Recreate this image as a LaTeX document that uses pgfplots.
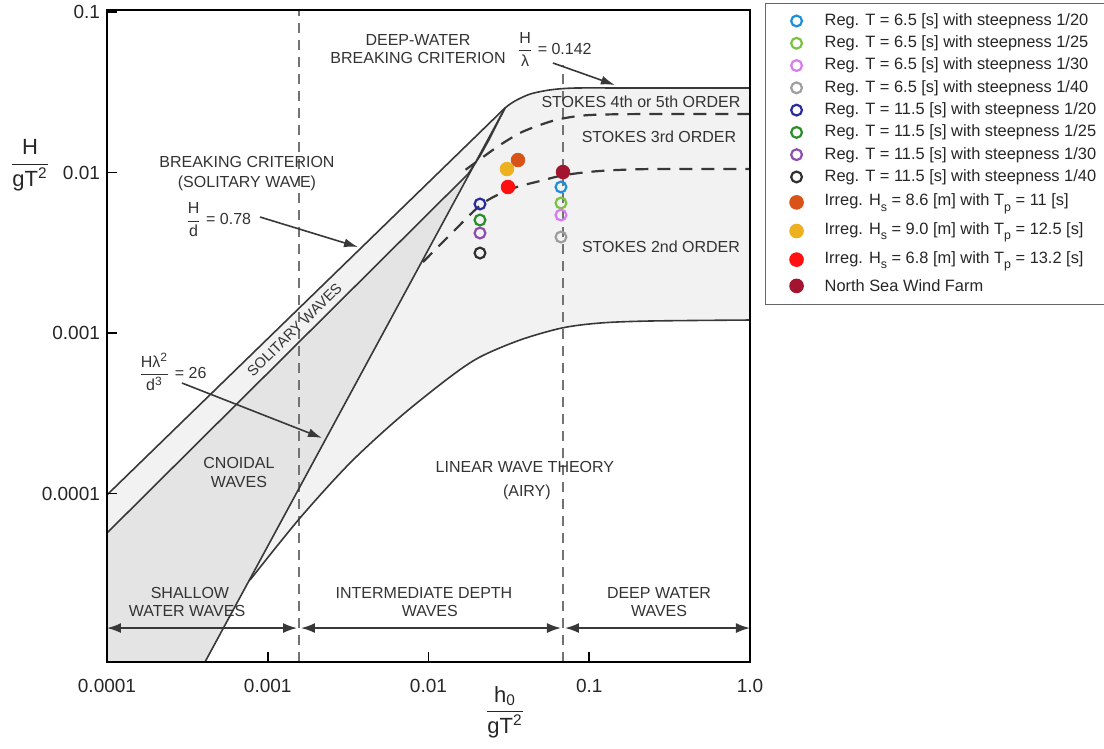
\documentclass[border=0pt]{standalone}
\usepackage{pgfplots}
\pgfplotsset{compat=1.18}
\usepackage{fontspec}
\setmainfont{Liberation Sans}
\usepackage{amsmath}
\usetikzlibrary{arrows.meta}

\definecolor{cA}{HTML}{1E8FD8}
\definecolor{cB}{HTML}{7CC242}
\definecolor{cC}{HTML}{D77BF0}
\definecolor{cD}{HTML}{9E9E9E}
\definecolor{cE}{HTML}{2B2BA0}
\definecolor{cF}{HTML}{2A8C2A}
\definecolor{cG}{HTML}{8E4DB0}
\definecolor{cH}{HTML}{303030}
\definecolor{cI}{HTML}{D95319}
\definecolor{cJ}{HTML}{EDB120}
\definecolor{cK}{HTML}{FF1010}
\definecolor{cL}{HTML}{A2142F}
\definecolor{lightfill}{HTML}{F2F2F2}
\definecolor{cnoidfill}{HTML}{E4E4E4}
\definecolor{curve}{HTML}{383838}
\definecolor{txt}{HTML}{333333}

\newcommand{\lsub}[1]{\raisebox{-2.6pt}{\fontsize{6.2}{7}\selectfont #1}}

\pgfplotsset{
  lgmark/.style={only marks,
    legend image code/.code={\path (0pt,0pt) (22.5pt,0pt);\draw[##1] plot coordinates {(11pt,0pt)};}},
  omark/.style={lgmark, mark=o, mark size=2.7pt, line width=1.1pt, color=#1},
  fmark/.style={lgmark, mark=*, mark size=3.4pt, color=#1, mark options={draw=#1, fill=#1}},
}

\begin{document}
\begin{tikzpicture}
\begin{axis}[
  at={(0,0)}, anchor=south west,
  scale only axis, width=321.5pt, height=326pt,
  xmode=log, ymode=log,
  xmin=1e-4, xmax=1, ymin=8.92e-6, ymax=0.1029,
  xtick={1e-4,1e-3,1e-2,1e-1,1}, xticklabels={0.0001,0.001,0.01,0.1,1.0},
  ytick={1e-4,1e-3,1e-2,1e-1}, yticklabels={0.0001,0.001,0.01,0.1},
  xminorticks=false, yminorticks=false,
  tick align=inside, xtick pos=left, ytick pos=left,
  major tick length=5pt,
  axis line style={line width=1.3pt},
  tick style={line width=0.8pt, black},
  ticklabel style={font=\fontsize{9.5}{11}\selectfont, text=black!85},
  xticklabel style={yshift=-5pt},
  /pgf/number format/assume math mode=true,
  axis on top,
  clip=false,
  legend style={at={(1.0233,1.0107)}, anchor=north west, draw=black!60, line width=0.5pt,
    font=\fontsize{8.2}{9.8}\selectfont, text=black!85, row sep=-0.3pt, inner xsep=4pt, inner ysep=3pt},
  legend cell align=left,
]
% light grey region between the breaking limit and the Stokes 2nd / linear limit
\addplot[fill=lightfill, draw=none, forget plot] coordinates {
  (1e-4,9.8e-5) (0.01,8.68e-3) (0.025,0.02119) (0.02992,0.02523) (0.0345,0.0279) (0.0428,0.0308) (0.0570,0.0327) (0.0815,0.0336) (1,0.0336)
  (1,1.205e-3) (0.2387,1.188e-3) (0.1166,1.154e-3) (0.06769,1.075e-3) (0.03709,9.045e-4) (0.02091,7.089e-4)
  (0.01360,5.319e-4) (6.647e-3,2.996e-4) (3.249e-3,1.549e-4) (1.587e-3,7.039e-5) (7.757e-4,2.892e-5)
  (4.071e-4,8.92e-6) (1e-4,8.92e-6)} -- cycle;
% cnoidal region
\addplot[fill=cnoidfill, draw=none, forget plot] coordinates {
  (1e-4,8.92e-6) (1e-4,5.675e-5) (0.01761,9.787e-3) (4.071e-4,8.92e-6)} -- cycle;

% vertical dashed boundaries
\addplot[black!55, line width=0.6pt, dash pattern=on 5pt off 3.5pt, forget plot] coordinates {(1.565e-3,8.92e-6) (1.565e-3,0.1029)};
\addplot[black!55, line width=0.6pt, dash pattern=on 5pt off 3.5pt, forget plot] coordinates {(0.06865,8.92e-6) (0.06865,0.0468)};

% breaking limit (upper curve)
\addplot[curve, line width=0.8pt, smooth, tension=0.45, forget plot] coordinates {
  (1e-4,9.8e-5) (0.01,8.68e-3) (0.025,0.02119) (0.02992,0.02523) (0.0345,0.0279) (0.0428,0.0308) (0.0570,0.0327) (0.0815,0.0336) (0.2,0.0336) (1,0.0336)};
% lower boundary of solitary band
\addplot[curve, line width=0.8pt, forget plot] coordinates {
  (1e-4,5.675e-5) (0.01761,9.787e-3) (0.02091,0.01267) (0.02413,0.01641) (0.02705,0.02063) (0.02992,0.02523)};
% Ursell line H lambda^2/d^3 = 26
\addplot[curve, line width=0.8pt, forget plot] coordinates {(4.071e-4,8.92e-6) (0.02992,0.02523)};
% Stokes 2nd / linear boundary
\addplot[curve, line width=0.8pt, smooth, tension=0.5, forget plot] coordinates {
  (7.757e-4,2.892e-5) (1.587e-3,7.039e-5) (3.249e-3,1.549e-4) (6.647e-3,2.996e-4) (0.01360,5.319e-4)
  (0.02091,7.089e-4) (0.03709,9.045e-4) (0.06769,1.075e-3) (0.1166,1.154e-3) (0.2387,1.188e-3) (1,1.205e-3)};
% Stokes 2nd / 3rd boundary
\addplot[curve, line width=1.1pt, smooth, tension=0.5, dash pattern=on 6.5pt off 4.5pt, forget plot] coordinates {
  (9.243e-3,2.770e-3) (0.01360,4.080e-3) (0.02152,6.365e-3) (0.03261,7.893e-3) (0.04939,8.851e-3)
  (0.07067,9.647e-3) (0.1166,0.01022) (0.2387,0.01051) (1,0.01051)};
% Stokes 3rd / 4th-5th boundary
\addplot[curve, line width=1.1pt, smooth, tension=0.5, dash pattern=on 6.5pt off 4.5pt, forget plot] coordinates {
  (0.01700,0.01040) (0.02413,0.01342) (0.02785,0.01484) (0.03709,0.01763) (0.04939,0.01977)
  (0.06577,0.02154) (0.1011,0.02282) (0.2387,0.02315) (1,0.02315)};

% depth-class arrows
\draw[curve, line width=0.8pt, {Latex[length=7pt,width=5pt]}-{Latex[length=7pt,width=5pt]}] (axis cs:1e-4,1.452e-5) -- (axis cs:1.521e-3,1.452e-5);
\draw[curve, line width=0.8pt, {Latex[length=7pt,width=5pt]}-{Latex[length=7pt,width=5pt]}] (axis cs:1.610e-3,1.452e-5) -- (axis cs:0.06671,1.452e-5);
\draw[curve, line width=0.8pt, {Latex[length=7pt,width=5pt]}-{Latex[length=7pt,width=5pt]}] (axis cs:0.07067,1.452e-5) -- (axis cs:1,1.452e-5);

% annotation arrows
\draw[curve, line width=0.8pt, -{Latex[length=7pt,width=4.5pt]}] (axis description cs:0.6936,0.9187) -- (axis description cs:0.790,0.885);
\draw[curve, line width=0.8pt, -{Latex[length=7pt,width=4.5pt]}] (axis description cs:0.238,0.6825) -- (axis description cs:0.3904,0.6365);
\draw[curve, line width=0.8pt, -{Latex[length=7pt,width=4.5pt]}] (axis description cs:0.1166,0.4279) -- (axis description cs:0.3344,0.3436);

% text labels
\begin{scope}[every node/.style={font=\fontsize{8}{9.6}\selectfont, text=txt, inner sep=0pt}]
\node at (axis description cs:0.4837,0.954) {DEEP-WATER};
\node at (axis description cs:0.4837,0.9264) {BREAKING CRITERION};
\node[anchor=west] at (axis description cs:0.637,0.940) {$\dfrac{\text{H}}{\text{λ}}$ = 0.142};
\node at (axis description cs:0.8305,0.859) {STOKES 4th or 5th ORDER};
\node at (axis description cs:0.8585,0.805) {STOKES 3rd ORDER};
\node at (axis description cs:0.8616,0.6365) {STOKES 2nd ORDER};
\node at (axis description cs:0.2177,0.7669) {BREAKING CRITERION};
\node at (axis description cs:0.2177,0.7347) {(SOLITARY WAVE)};
\node[anchor=west] at (axis description cs:0.1213,0.678) {$\dfrac{\text{H}}{\text{d}}$ = 0.78};
\node[anchor=west] at (axis description cs:0.0482,0.4448) {$\dfrac{\text{Hλ\textsuperscript{2}}}{\text{d\textsuperscript{3}}}$ = 26};
\node[rotate=44.5, font=\fontsize{7.3}{9}\selectfont] at (axis description cs:0.2915,0.5095) {SOLITARY WAVES};
\node at (axis description cs:0.2053,0.3052) {CNOIDAL};
\node at (axis description cs:0.2053,0.276) {WAVES};
\node at (axis description cs:0.650,0.299) {LINEAR WAVE THEORY};
\node at (axis description cs:0.653,0.2607) {(AIRY)};
\node at (axis description cs:0.129,0.1058) {SHALLOW};
\node at (axis description cs:0.1244,0.0782) {WATER WAVES};
\node at (axis description cs:0.493,0.1058) {INTERMEDIATE DEPTH};
\node at (axis description cs:0.502,0.0782) {WAVES};
\node at (axis description cs:0.8585,0.1058) {DEEP WATER};
\node at (axis description cs:0.8585,0.0782) {WAVES};
\end{scope}
\node[font=\fontsize{11}{13}\selectfont, text=black!85] at (axis description cs:-0.1198,0.762) {$\dfrac{\text{H}}{\text{gT\textsuperscript{2}}}$};
\node[font=\fontsize{11}{13}\selectfont, text=black!85] at (axis description cs:0.619,-0.0767) {$\dfrac{\text{h\textsubscript{0}}}{\text{gT\textsuperscript{2}}}$};

% data points
\addplot[omark=cA] coordinates {(0.06671,8.123e-3)};
\addlegendentry{Reg. T = 6.5 [s] with steepness 1/20}
\addplot[omark=cB] coordinates {(0.06671,6.457e-3)};
\addlegendentry{Reg. T = 6.5 [s] with steepness 1/25}
\addplot[omark=cC] coordinates {(0.06671,5.434e-3)};
\addlegendentry{Reg. T = 6.5 [s] with steepness 1/30}
\addplot[omark=cD] coordinates {(0.06671,3.964e-3)};
\addlegendentry{Reg. T = 6.5 [s] with steepness 1/40}
\addplot[omark=cE] coordinates {(0.02091,6.365e-3)};
\addlegendentry{Reg. T = 11.5 [s] with steepness 1/20}
\addplot[omark=cF] coordinates {(0.02091,5.058e-3)};
\addlegendentry{Reg. T = 11.5 [s] with steepness 1/25}
\addplot[omark=cG] coordinates {(0.02091,4.198e-3)};
\addlegendentry{Reg. T = 11.5 [s] with steepness 1/30}
\addplot[omark=cH] coordinates {(0.02091,3.150e-3)};
\addlegendentry{Reg. T = 11.5 [s] with steepness 1/40}
\addplot[fmark=cI] coordinates {(0.03604,0.01196)};
\addlegendentry[text height=7pt, text depth=3.6pt]{Irreg. H\lsub{s} = 8.6 [m] with T\lsub{p} = 11 [s]}
\addplot[fmark=cJ] coordinates {(0.03078,0.01051)};
\addlegendentry[text height=7pt, text depth=3.6pt]{Irreg. H\lsub{s} = 9.0 [m] with T\lsub{p} = 12.5 [s]}
\addplot[fmark=cK] coordinates {(0.03123,8.123e-3)};
\addlegendentry[text height=7pt, text depth=3.6pt]{Irreg. H\lsub{s} = 6.8 [m] with T\lsub{p} = 13.2 [s]}
\addplot[fmark=cL] coordinates {(0.06865,0.01007)};
\addlegendentry[text height=6.8pt]{North Sea Wind Farm}
\end{axis}
\pgfresetboundingbox
\useasboundingbox (-53.5pt,-43.5pt) rectangle (498.5pt,331pt);
\end{tikzpicture}
\end{document}
